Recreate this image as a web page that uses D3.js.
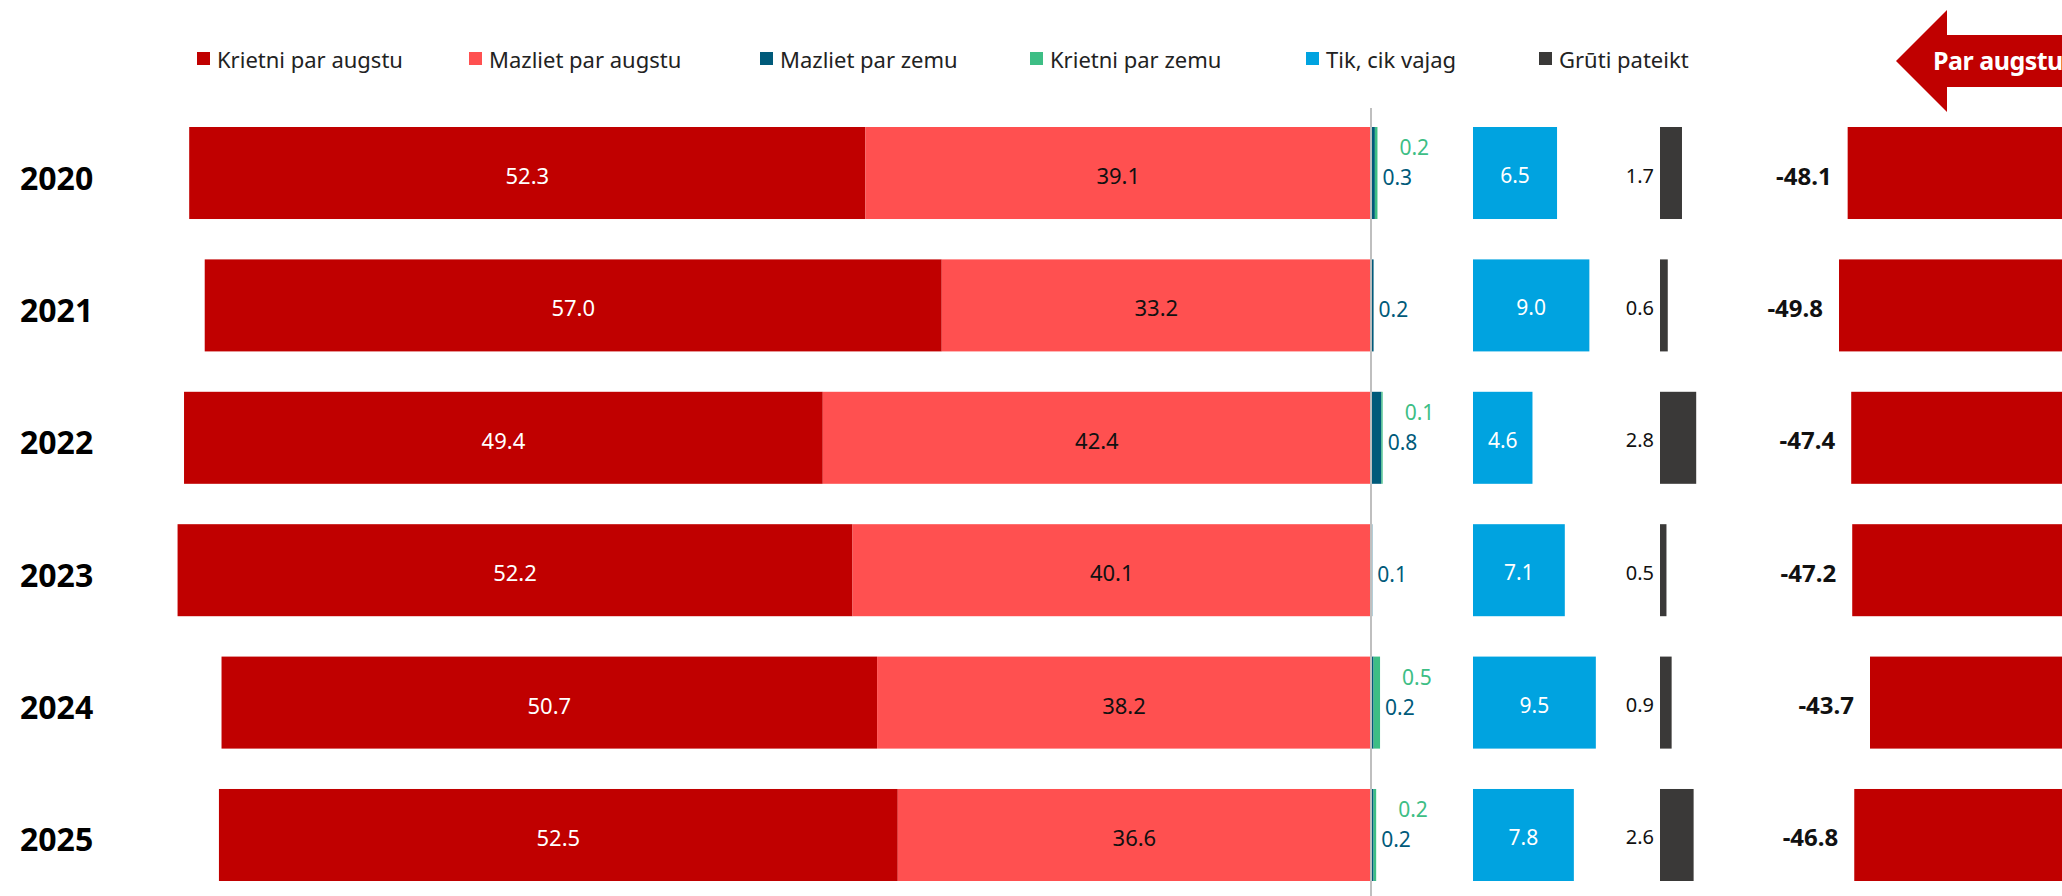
<!DOCTYPE html>
<html>
<head>
<meta charset="utf-8">
<script src="https://cdn.jsdelivr.net/npm/d3@7"></script>
<style>
    body { margin: 0; background: #fff; }
    svg { display: block; font-family: "Noto Sans", "Open Sans", sans-serif; }
</style>
</head>
<body>
<div id="chart"></div>
<script>
// data
const years = ["2020", "2021", "2022", "2023", "2024", "2025"];
const krietniAugstu = [52.3, 57.0, 49.4, 52.2, 50.7, 52.5];
const mazlietAugstu = [39.1, 33.2, 42.4, 40.1, 38.2, 36.6];
const mazlietZemu = [0.3, 0.2, 0.8, 0.1, 0.2, 0.2];
const krietniZemu = [0.2, 0, 0.1, 0, 0.5, 0.2];
const tikCikVajag = [6.5, 9.0, 4.6, 7.1, 9.5, 7.8];
const grutiPateikt = [1.7, 0.6, 2.8, 0.5, 0.9, 2.6];
const bilance = [-48.1, -49.8, -47.4, -47.2, -43.7, -46.8];

const legendLabels = ["Krietni par augstu", "Mazliet par augstu", "Mazliet par zemu", "Krietni par zemu", "Tik, cik vajag", "Grūti pateikt"];
const colors = ["#C00000", "#FF5050", "#005A7A", "#3DBE85", "#00A3E0", "#3A3938"];

document.addEventListener("DOMContentLoaded", function() {
    const width = 2062;
    const height = 896;
    const pxPerUnit = 12.93;
    const zeroX = 1371;

    const svg = d3.select("#chart")
        .append("svg")
        .attr("width", width)
        .attr("height", height);

    const y = d3.scaleBand()
        .domain(years)
        .range([127, 881])
        .paddingInner(0.305)
        .paddingOuter(0);

    // main diverging bar around the axis
    const x = d3.scaleLinear()
        .domain([-100, 10])
        .range([zeroX - 100 * pxPerUnit, zeroX + 10 * pxPerUnit]);

    // separate columns, same unit size
    const xTik = d3.scaleLinear().domain([0, 10]).range([1473, 1473 + 10 * pxPerUnit]);
    const xGruti = d3.scaleLinear().domain([0, 10]).range([1660, 1660 + 10 * pxPerUnit]);
    const xBil = d3.scaleLinear().domain([-50, 0]).range([2092 - 50 * 5.08, 2092]);

    const rows = years.map((year, i) => ({
        year: year,
        ka: krietniAugstu[i],
        ma: mazlietAugstu[i],
        mz: mazlietZemu[i],
        kz: krietniZemu[i],
        tik: tikCikVajag[i],
        gr: grutiPateikt[i],
        bil: bilance[i]
    }));

    const row = svg.append("g")
        .selectAll("g")
        .data(rows)
        .enter()
        .append("g");

    const mid = d => y(d.year) + y.bandwidth() / 2;

    // Krietni par augstu
    row.append("rect")
        .attr("x", d => x(-(d.ka + d.ma)))
        .attr("y", d => y(d.year))
        .attr("width", d => x(-d.ma) - x(-(d.ka + d.ma)))
        .attr("height", y.bandwidth())
        .attr("fill", colors[0]);

    // Mazliet par augstu
    row.append("rect")
        .attr("x", d => x(-d.ma))
        .attr("y", d => y(d.year))
        .attr("width", d => x(0) - x(-d.ma))
        .attr("height", y.bandwidth())
        .attr("fill", colors[1]);

    // Mazliet par zemu
    row.append("rect")
        .attr("x", x(0))
        .attr("y", d => y(d.year))
        .attr("width", d => x(d.mz) - x(0))
        .attr("height", y.bandwidth())
        .attr("fill", colors[2]);

    // Krietni par zemu
    row.append("rect")
        .attr("x", d => x(d.mz))
        .attr("y", d => y(d.year))
        .attr("width", d => x(d.mz + d.kz) - x(d.mz))
        .attr("height", y.bandwidth())
        .attr("fill", colors[3]);

    row.append("rect")
        .attr("x", xTik(0))
        .attr("y", d => y(d.year))
        .attr("width", d => xTik(d.tik) - xTik(0))
        .attr("height", y.bandwidth())
        .attr("fill", colors[4]);

    row.append("rect")
        .attr("x", xGruti(0))
        .attr("y", d => y(d.year))
        .attr("width", d => xGruti(d.gr) - xGruti(0))
        .attr("height", y.bandwidth())
        .attr("fill", colors[5]);

    row.append("rect")
        .attr("x", d => xBil(d.bil))
        .attr("y", d => y(d.year))
        .attr("width", d => xBil(0) - xBil(d.bil))
        .attr("height", y.bandwidth())
        .attr("fill", colors[0]);

    // center axis line
    svg.append("line")
        .attr("x1", x(0))
        .attr("x2", x(0))
        .attr("y1", 108)
        .attr("y2", height)
        .attr("stroke", "#BFBFBF")
        .attr("stroke-width", 2);

    // labels
    row.append("text")
        .attr("x", 20)
        .attr("y", d => mid(d) + 4)
        .attr("dominant-baseline", "central")
        .style("font-size", "32px")
        .style("font-weight", "bold")
        .attr("fill", "#000")
        .text(d => d.year);

    row.append("text")
        .attr("x", d => (x(-(d.ka + d.ma)) + x(-d.ma)) / 2)
        .attr("y", d => mid(d) + 2)
        .attr("text-anchor", "middle")
        .attr("dominant-baseline", "central")
        .style("font-size", "22px")
        .attr("fill", "#fff")
        .text(d => d.ka.toFixed(1));

    row.append("text")
        .attr("x", d => (x(-d.ma) + x(0)) / 2)
        .attr("y", d => mid(d) + 2)
        .attr("text-anchor", "middle")
        .attr("dominant-baseline", "central")
        .style("font-size", "22px")
        .attr("fill", "#111")
        .text(d => d.ma.toFixed(1));

    row.append("text")
        .attr("x", d => x(d.mz + d.kz) + 5)
        .attr("y", d => mid(d) + 4)
        .attr("dominant-baseline", "central")
        .style("font-size", "21px")
        .attr("fill", colors[2])
        .text(d => d.mz.toFixed(1));

    row.filter(d => d.kz > 0)
        .append("text")
        .attr("x", d => x(d.mz + d.kz) + 22)
        .attr("y", d => mid(d) - 26)
        .attr("dominant-baseline", "central")
        .style("font-size", "21px")
        .attr("fill", colors[3])
        .text(d => d.kz.toFixed(1));

    row.append("text")
        .attr("x", d => (xTik(0) + xTik(d.tik)) / 2)
        .attr("y", d => mid(d) + 2)
        .attr("text-anchor", "middle")
        .attr("dominant-baseline", "central")
        .style("font-size", "21px")
        .attr("fill", "#fff")
        .text(d => d.tik.toFixed(1));

    row.append("text")
        .attr("x", xGruti(0) - 6)
        .attr("y", d => mid(d) + 2)
        .attr("text-anchor", "end")
        .attr("dominant-baseline", "central")
        .style("font-size", "20px")
        .attr("fill", "#111")
        .text(d => d.gr.toFixed(1));

    row.append("text")
        .attr("x", d => xBil(d.bil) - 16)
        .attr("y", d => mid(d) + 2)
        .attr("text-anchor", "end")
        .attr("dominant-baseline", "central")
        .style("font-size", "24px")
        .style("font-weight", "bold")
        .attr("fill", "#111")
        .text(d => d.bil.toFixed(1));

    // legend
    const legendX = [197, 469, 760, 1030, 1306, 1539];
    const legend = svg.append("g")
        .attr("transform", "translate(0, 59)");

    legendLabels.forEach((label, i) => {
        const item = legend.append("g")
            .attr("transform", `translate(${legendX[i]}, 0)`);

        item.append("rect")
            .attr("x", 0)
            .attr("y", -7)
            .attr("width", 13)
            .attr("height", 13)
            .attr("fill", colors[i]);

        item.append("text")
            .attr("x", 20)
            .attr("y", 0)
            .attr("dominant-baseline", "central")
            .style("font-size", "22px")
            .attr("fill", "#222")
            .text(label);
    });

    // arrow "Par augstu"
    svg.append("polygon")
        .attr("points", "1896,61 1947,10 1947,35 2070,35 2070,87 1947,87 1947,112")
        .attr("fill", colors[0]);

    svg.append("text")
        .attr("x", 1933)
        .attr("y", 70)
        .style("font-size", "25px")
        .style("font-weight", "bold")
        .style("letter-spacing", "-0.5px")
        .attr("fill", "#fff")
        .text("Par augstu");
});
</script>
</body>
</html>
